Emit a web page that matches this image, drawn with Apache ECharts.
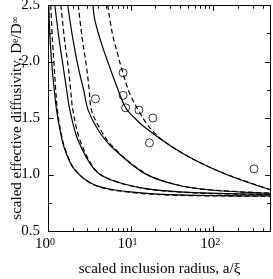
<!DOCTYPE html>
<html>
<head>
<meta charset="utf-8">
<script src="https://cdn.jsdelivr.net/npm/echarts@6/dist/echarts.min.js"></script>
<style>
html,body{margin:0;padding:0;background:#fff;}
#chart{width:273px;height:279px;}
</style>
</head>
<body>
<div id="chart"></div>
<script>
// ---- axis ranges and ticks ----
const xRange = [1, 500];
const yRange = [0.5, 2.5];
const xMajorTicks = [1, 10, 100];
const xMinorTicks = [2,3,4,5,6,7,8,9,20,30,40,50,60,70,80,90,200,300,400];
const yMajorTicks = [0.5, 1.0, 1.5, 2.0, 2.5];
const yMinorTicks = [0.75, 1.25, 1.75, 2.25];

const solid1 = [[1.02,2.5],[1.06,2.2],[1.12,1.95],[1.19,1.75],[1.27,1.57],[1.40,1.39],[1.60,1.22],[2.11,1.04],[3.68,0.907],[9.2,0.848],[36.6,0.819],[500,0.81]];
const dashed1 = [[1.08,2.5],[1.13,2.2],[1.19,1.95],[1.24,1.75],[1.30,1.57],[1.42,1.39],[1.62,1.22],[2.13,1.04],[3.7,0.905],[9.2,0.845],[36.6,0.816],[500,0.808]];
const solid2 = [[1.21,2.5],[1.36,2.2],[1.53,1.95],[1.68,1.75],[1.84,1.57],[2.32,1.30],[3.68,1.04],[5.86,0.951],[14.7,0.878],[59,0.839],[500,0.825]];
const dashed2 = [[1.43,2.5],[1.58,2.2],[1.76,1.95],[1.88,1.75],[2.0,1.57],[2.45,1.30],[3.75,1.04],[5.9,0.95],[14.7,0.876],[59,0.837],[500,0.823]];
const solid3 = [[1.73,2.5],[2.0,2.2],[2.32,1.95],[2.7,1.75],[3.06,1.57],[4.0,1.40],[5.86,1.246],[14.7,1.01],[36.6,0.907],[93.5,0.863],[500,0.834]];
const dashed3 = [[2.32,2.5],[2.6,2.2],[2.93,1.95],[3.15,1.75],[3.36,1.57],[4.3,1.40],[6.0,1.25],[14.7,1.015],[36.6,0.909],[93.5,0.864],[500,0.835]];
const solid4 = [[3.51,2.5],[3.68,2.37],[4.43,2.16],[5.58,1.95],[6.72,1.79],[8.7,1.59],[11.2,1.50],[14.7,1.42],[30.9,1.25],[59,1.13],[149,0.996],[500,0.863]];
const dashed4 = [[5.28,2.5],[6.0,2.25],[7.0,2.06],[7.7,1.95],[9.7,1.72],[12.6,1.56],[16,1.44],[22,1.33],[31,1.25],[59,1.13],[149,0.998],[500,0.864]];
const measured = [[3.75,1.67],[8.1,1.90],[8.1,1.70],[8.7,1.59],[12.6,1.57],[18.6,1.50],[16.9,1.28],[312,1.05]];

// ---- chart ----
const FONT = 'Liberation Serif';
const black = '#000';
const chart = echarts.init(document.getElementById('chart'));

function lineSeries(data, dashed) {
  return {
    type: 'line', data: data,
    smooth: 0.35, showSymbol: false, symbol: 'none', clip: true,
    lineStyle: {color: black, width: 1.2, type: dashed ? [5, 3] : 'solid'}
  };
}

// frame + tick segments, positioned by a coordinate converter from the axes' scales
function frameSegments(toPx) {
  const lb = toPx([xRange[0], yRange[0]]);
  const rt = toPx([xRange[1], yRange[1]]);
  const L = Math.round(lb[0]) + 0.5, B = Math.round(lb[1]) + 0.5;
  const R = Math.round(rt[0]) - 0.5, T = Math.round(rt[1]) + 0.5;
  const segs = [[L, T, R, T], [L, B, R, B], [L, T, L, B], [R, T, R, B]];
  function xt(v, len) {
    const px = Math.round(toPx([v, yRange[0]])[0]) + 0.5;
    segs.push([px, B, px, B - len]);
    segs.push([px, T, px, T + len]);
  }
  function yt(v, len) {
    const py = Math.round(toPx([xRange[0], v])[1]) + 0.5;
    segs.push([L, py, L + len, py]);
    segs.push([R, py, R - len, py]);
  }
  xMajorTicks.forEach(function (v) { xt(v, 5); });
  xMinorTicks.forEach(function (v) { xt(v, 3); });
  yMajorTicks.forEach(function (v) { yt(v, 5); });
  yMinorTicks.forEach(function (v) { yt(v, 3); });
  return segs;
}
function segEl(s) {
  return {type: 'line', shape: {x1: s[0], y1: s[1], x2: s[2], y2: s[3]}, style: {stroke: '#000', lineWidth: 1}, z: 100, silent: true};
}

try {
  chart.setOption({
    animation: false,
    backgroundColor: '#fff',
    grid: {left: 48, right: 2, top: 5, bottom: 48, outerBoundsMode: 'none'},
    xAxis: {
      type: 'log', logBase: 10, min: xRange[0], max: xRange[1],
      axisLine: {show: false}, axisTick: {show: false}, splitLine: {show: false}, minorTick: {show: false},
      axisLabel: {
        show: true, margin: 6, padding: [0, 6, 0, 0],
        formatter: function (v) {
          const e = Math.log10(v);
          if (Math.abs(e - Math.round(e)) > 1e-6) return '';
          return '{b|10}{s|' + Math.round(e) + '}';
        },
        rich: {
          b: {fontFamily: FONT, fontSize: 15, color: black},
          s: {fontFamily: FONT, fontSize: 10, color: black, verticalAlign: 'top'}
        }
      },
      name: 'scaled inclusion radius, a/ξ',
      nameLocation: 'middle', nameGap: 31, nameMoveOverlap: false,
      nameTextStyle: {fontFamily: FONT, fontSize: 15, color: black}
    },
    yAxis: {
      type: 'value', min: yRange[0], max: yRange[1], interval: 0.5,
      axisLine: {show: false}, axisTick: {show: false},
      splitLine: {show: false}, minorTick: {show: false},
      axisLabel: {
        show: true, margin: 8, fontFamily: FONT, fontSize: 15, lineHeight: 12, color: black,
        formatter: function (v) { return v.toFixed(1); }
      },
      name: '{t|scaled effective diffusivity, D}{s|e}{t|/D}{s|∞}',
      nameLocation: 'middle', nameGap: 23, nameRotate: 90, nameMoveOverlap: false,
      nameTextStyle: {
        rich: {
          t: {fontFamily: FONT, fontSize: 15, color: black},
          s: {fontFamily: FONT, fontSize: 10, color: black, verticalAlign: 'top'}
        }
      }
    },
    series: [
      {
        type: 'custom', data: [[xRange[0], yRange[0]]], clip: false, z: 10,
        renderItem: function (params, api) {
          return {type: 'group', children: frameSegments(function (p) { return api.coord(p); }).map(function (s) {
            return {type: 'line', shape: {x1: s[0], y1: s[1], x2: s[2], y2: s[3]}, style: {stroke: '#000', lineWidth: 1}};
          })};
        }
      },
      lineSeries(solid1, false), lineSeries(dashed1, true),
      lineSeries(solid2, false), lineSeries(dashed2, true),
      lineSeries(solid3, false), lineSeries(dashed3, true),
      lineSeries(solid4, false), lineSeries(dashed4, true),
      {
        type: 'scatter', data: measured,
        symbol: 'circle', symbolSize: 8,
        itemStyle: {color: 'rgba(0,0,0,0)', borderColor: black, borderWidth: 1}
      }
    ]
  });
} catch (e) { /* continue to draw the frame below */ }

try {
  const segs = frameSegments(function (p) {
    return chart.convertToPixel({xAxisIndex: 0, yAxisIndex: 0}, p);
  });
  chart.setOption({graphic: {elements: segs.map(segEl)}});
} catch (e) { }
</script>
</body>
</html>
